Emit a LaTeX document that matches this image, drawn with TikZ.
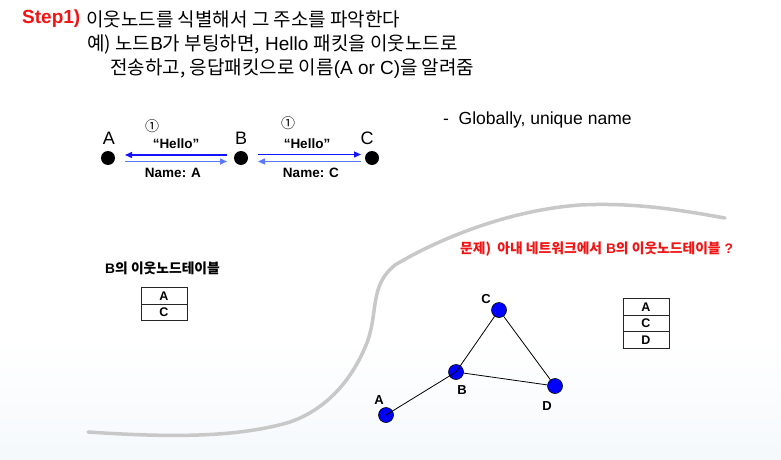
\documentclass[tikz,border=0pt]{standalone}
\usepackage{fontspec}
\setmainfont{Liberation Sans}
\newfontfamily\kr{Noto Sans CJK KR}
\usetikzlibrary{arrows.meta}
\definecolor{bgblue}{RGB}{226,236,246}
\definecolor{arrowdark}{RGB}{20,20,255}
\definecolor{arrowlight}{RGB}{90,120,255}
\definecolor{curvegray}{RGB}{200,200,200}
\definecolor{stepred}{RGB}{240,20,20}
\pgfdeclareverticalshading{bgshade}{100bp}{color(0bp)=(bgblue); color(38bp)=(white); color(100bp)=(white)}
\begin{document}
\begin{tikzpicture}[x=1pt,y=-1pt,
  fs/.style={font=\fontsize{#1}{#1}\selectfont},
  txt/.style={inner sep=0pt, anchor=west},
  dot/.style={circle, fill=black, inner sep=0pt, minimum size=14pt},
  lbl/.style={inner sep=0pt, font=\fontsize{18}{18}\selectfont},
  msg/.style={inner sep=0pt, font=\fontsize{13.5}{13.5}\selectfont\bfseries},
  harrow/.style={line width=1.4pt, -{Triangle[length=7pt,width=6pt]}},
  cell/.style={draw=black!85, line width=0.8pt, minimum width=46pt, minimum height=16.5pt, inner sep=0pt, outer sep=0pt, font=\fontsize{12.5}{12.5}\selectfont\bfseries},
  netnode/.style={circle, fill=blue, draw=black, line width=0.6pt, inner sep=0pt, minimum size=15pt},
  netlbl/.style={inner sep=0pt, font=\fontsize{13}{13}\selectfont\bfseries},
  edge/.style={line width=0.8pt, black}
]
% background
\shade[shading=bgshade] (0,0) rectangle (781,460);
\useasboundingbox (0,0) rectangle (781,460);

% header text
\node[txt, text=stepred, font=\fontsize{19}{19}\selectfont\bfseries] (step) at (22,19) {Step1)};
\node[txt, fs=19] (l1) at (86,19) {\kr 이웃노드를 식별해서 그 주소를 파악한다};
\node[txt, fs=19] (l2) at (87,45) {{\kr 예) 노드}B{\kr 가 부팅하면,} Hello {\kr 패킷을 이웃노드로}};
\node[txt, fs=19] (l3) at (110,69) {{\kr 전송하고, 응답패킷으로 이름}(A or C){\kr 을 알려줌}};

% top three nodes
\node[dot] (A) at (108,158) {};
\node[dot] (B) at (241,158) {};
\node[dot] (C) at (372,158) {};
\node[lbl] (Al) at (109,138) {A};
\node[lbl] (Bl) at (241,138) {B};
\node[lbl] (Cl) at (367,138) {C};

\coordinate (abT1) at (227,155); \coordinate (abT2) at (125,155);
\coordinate (abB1) at (125,161.5); \coordinate (abB2) at (227,161.5);
\coordinate (bcT1) at (258,154.5); \coordinate (bcT2) at (361,154.5);
\coordinate (bcB1) at (361,161.5); \coordinate (bcB2) at (258,161.5);
\draw[harrow, arrowdark] (abT1) -- (abT2);
\draw[harrow, arrowlight] (abB1) -- (abB2);
\draw[harrow, arrowdark] (bcT1) -- (bcT2);
\draw[harrow, arrowlight] (bcB1) -- (bcB2);

\node[inner sep=0pt, font=\fontsize{14}{14}\selectfont\kr] (n1) at (152,126) {①};
\node[inner sep=0pt, font=\fontsize{14}{14}\selectfont\kr] (n2) at (288,123) {①};
\node[msg] (h1) at (176,144) {“Hello”};
\node[msg] (h2) at (307,144) {“Hello”};
\node[msg] (nA) at (173,172.5) {Name: A};
\node[msg] (nC) at (311,173) {Name: C};

\node[txt, fs=17.5] (glob) at (443,120) {-\ \ Globally, unique name};

% gray curve
\draw[curvegray, line width=3.5pt, line cap=round]
  (88,432) .. controls (150,436) and (230,440) .. (290,422)
  .. controls (330,408) and (355,375) .. (368,340)
  .. controls (378,310) and (370,285) .. (395,265)
  .. controls (440,238) and (510,210) .. (580,205)
  .. controls (640,202) and (690,212) .. (725,218);

% left table
\node[txt, font=\fontsize{13.8}{13.8}\selectfont\bfseries] (tt) at (105,268) {B{\kr 의 이웃노드테이블}};
\node[cell] (t1a) at (164,296) {A};
\node[cell] (t1c) at (164,312.5) {C};

% red question
\node[txt, text=stepred, font=\fontsize{13.8}{13.8}\selectfont\bfseries] (q) at (460,249) {{\kr 문제)\ \ 아내 네트워크에서} B{\kr 의 이웃노드테이블} ?};

% network
\node[netnode] (nc) at (499,310) {};
\node[netnode] (nb) at (456,372) {};
\node[netnode] (nd) at (555,386) {};
\node[netnode] (na) at (386,415) {};
\draw[edge] (na.center) -- (nb.center);
\draw[edge] (nb.center) -- (nc);
\draw[edge] (nc) -- (nd);
\draw[edge] (nb) -- (nd);
\node[netlbl] (lc) at (486,299) {C};
\node[netlbl] (lb) at (462,390) {B};
\node[netlbl] (ld) at (547,406) {D};
\node[netlbl] (la) at (379,400) {A};

% right table
\node[cell] (t2a) at (646,307) {A};
\node[cell] (t2c) at (646,323.5) {C};
\node[cell] (t2d) at (646,340) {D};
\end{tikzpicture}
\end{document}
